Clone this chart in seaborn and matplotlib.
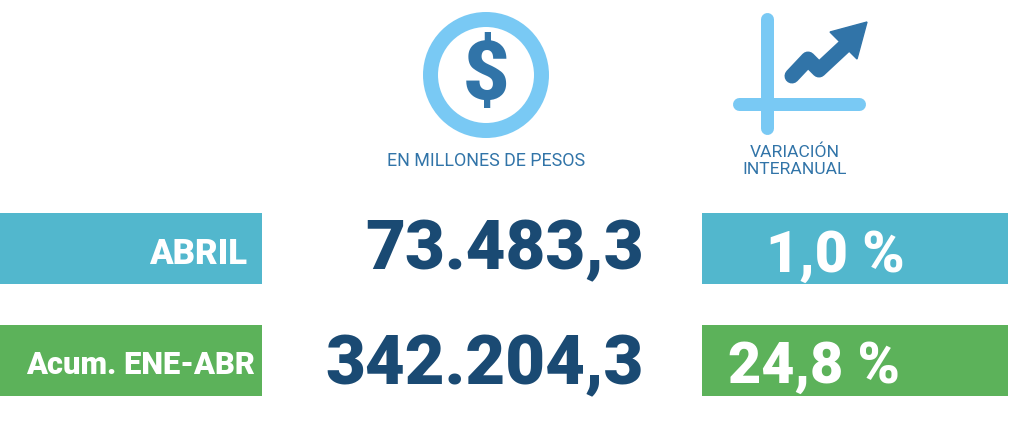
import matplotlib
matplotlib.use("Agg")
import matplotlib.pyplot as plt
from matplotlib.patches import Circle, Polygon
import seaborn as sns

sns.set_theme(style="white")
plt.rcParams['font.family'] = ['Roboto', 'DejaVu Sans']

periods = ["ABRIL", "Acum. ENE-ABR"]
amounts = ["73.483,3", "342.204,3"]
variations = ["1,0 %", "24,8 %"]
row_colors = ["#52B7CD", "#5CB25A"]
row_centers = [249, 361]
headers = ["EN MILLONES DE PESOS", "VARIACIÓN\nINTERANUAL"]

DARK = "#1A4A73"
MID = "#3174A8"
LIGHT = "#79C9F4"

fig = plt.figure(figsize=(10.24, 4.31), dpi=100)
ax = fig.add_axes([0, 0, 1, 1])
ax.set_xlim(0, 1024)
ax.set_ylim(431, 0)
ax.axis("off")

ax.barh(row_centers, [262, 262], height=71, left=0, color=row_colors, edgecolor="none")
ax.barh(row_centers, [306, 306], height=71, left=702, color=row_colors, edgecolor="none")

ax.text(247, row_centers[0] + 5.5, periods[0], ha="right", va="center",
        color="white", weight="black", fontsize=25)
ax.text(255, row_centers[1] + 4.5, periods[1], ha="right", va="center",
        color="white", weight="black", fontsize=22.2)
for y, a, v, vx, da, dv in zip(row_centers, amounts, variations, [835, 814.5], [1.5, 4.5], [7, 6]):
    ax.text(644, y + da, a, ha="right", va="center",
            color=DARK, weight="black", fontsize=49.6)
    ax.text(vx, y + dv, v, ha="center", va="center",
            color="white", weight="black", fontsize=41.3)

# money icon
ax.add_patch(Circle((486, 76), 55.5, fill=False, ec=LIGHT, lw=15.0 * 0.72))
ax.text(486, 77, "$", ha="center", va="center", color=MID, weight="black", fontsize=58)
ax.text(486, 161, headers[0], ha="center", va="center", color=MID, fontsize=12.85)

# growth icon
ax.plot([767, 767], [20, 129], color=LIGHT, lw=13 * 0.72, solid_capstyle="round")
ax.plot([739, 859], [105, 105], color=LIGHT, lw=13 * 0.72, solid_capstyle="round")
ax.plot([792, 808, 819, 848], [77, 60, 71, 44], color=MID, lw=15 * 0.72,
        solid_capstyle="round", solid_joinstyle="round")
ax.add_patch(Polygon([(867, 23), (830, 33), (857, 60)], closed=True, color=MID))
ax.text(795, 160.5, headers[1], ha="center", va="center", color=MID, fontsize=12.6, linespacing=1.15)

fig.savefig("out.png", dpi=100)
